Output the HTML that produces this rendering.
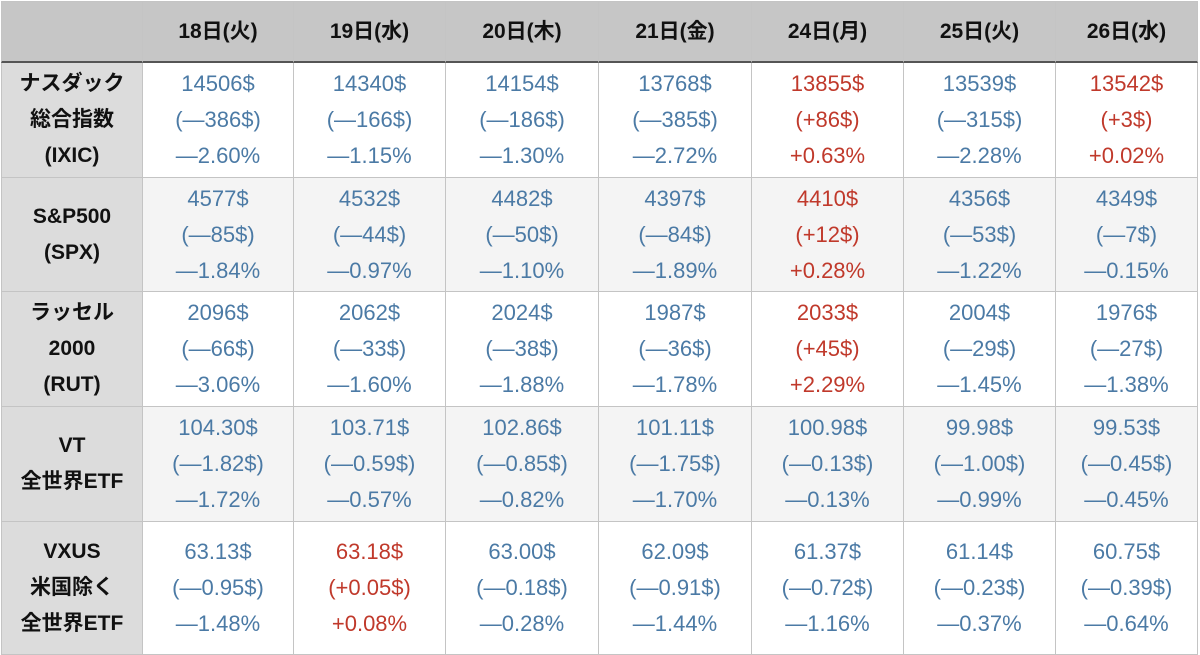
<!DOCTYPE html>
<html><head><meta charset="utf-8"><style>
body{margin:0;width:1200px;height:655px;background:#fff;overflow:hidden;font-family:"Liberation Sans","Noto Sans CJK JP",sans-serif;}
#t{position:absolute;left:2px;top:2px;}
.c{position:absolute;box-sizing:border-box;border-right:1px solid #c4c4c4;border-bottom:1px solid #c4c4c4;display:flex;flex-direction:column;align-items:center;justify-content:center;text-align:center;font-size:22px;line-height:36px;}
.h{background:#c6c6c6;font-weight:bold;color:#111;border-bottom:2px solid #555;font-size:21px;}
.l{background:#dcdcdc;font-weight:bold;color:#111;font-size:21px;}
.b{color:#4b7aa5}.r{color:#c0392b}
</style></head><body>
<div id="t"></div>
<script>
const cols=[1,143,294,446,599,752,904,1056,1198];
const rows=[1,63,178,292,407,522,655];
const days=["18日(火)","19日(水)","20日(木)","21日(金)","24日(月)","25日(火)","26日(水)"];
const labels=["ナスダック<br>総合指数<br>(IXIC)","S&amp;P500<br>(SPX)","ラッセル<br>2000<br>(RUT)","VT<br>全世界ETF","VXUS<br>米国除く<br>全世界ETF"];
const prices=[["14506$","14340$","14154$","13768$","13855$","13539$","13542$"],["4577$","4532$","4482$","4397$","4410$","4356$","4349$"],["2096$","2062$","2024$","1987$","2033$","2004$","1976$"],["104.30$","103.71$","102.86$","101.11$","100.98$","99.98$","99.53$"],["63.13$","63.18$","63.00$","62.09$","61.37$","61.14$","60.75$"]];
const changes=[["—386$","—166$","—186$","—385$","+86$","—315$","+3$"],["—85$","—44$","—50$","—84$","+12$","—53$","—7$"],["—66$","—33$","—38$","—36$","+45$","—29$","—27$"],["—1.82$","—0.59$","—0.85$","—1.75$","—0.13$","—1.00$","—0.45$"],["—0.95$","+0.05$","—0.18$","—0.91$","—0.72$","—0.23$","—0.39$"]];
const pcts=[["—2.60%","—1.15%","—1.30%","—2.72%","+0.63%","—2.28%","+0.02%"],["—1.84%","—0.97%","—1.10%","—1.89%","+0.28%","—1.22%","—0.15%"],["—3.06%","—1.60%","—1.88%","—1.78%","+2.29%","—1.45%","—1.38%"],["—1.72%","—0.57%","—0.82%","—1.70%","—0.13%","—0.99%","—0.45%"],["—1.48%","+0.08%","—0.28%","—1.44%","—1.16%","—0.37%","—0.64%"]];
const t=document.getElementById('t');
function cell(ci,ri,cls,html,name){
 const d=document.createElement('div');
 d.className='c '+cls;
 d.style.left=(cols[ci]-2)+'px';d.style.top=(rows[ri]-2)+'px';
 d.style.width=(cols[ci+1]-cols[ci])+'px';d.style.height=(rows[ri+1]-rows[ri])+'px';
 if(ci==0)d.style.borderLeft='1px solid #c4c4c4';
 if(ri==0)d.style.borderTop='1px solid #c4c4c4';
 d.innerHTML=html;
 
 
 t.appendChild(d);return d;
}
cell(0,0,'h','','corner-cell');
days.forEach((d,i)=>cell(i+1,0,'h',d,'header-day-'+(i+1)));
labels.forEach((l,r)=>{
 cell(0,r+1,'l',l,'row-label-'+(r+1));
 for(let i=0;i<7;i++){
  const up=changes[r][i][0]=='+';
  const c=cell(i+1,r+1,up?'r':'b',prices[r][i]+'<br>('+changes[r][i]+')<br>'+pcts[r][i],'value-cell-r'+(r+1)+'-c'+(i+1));
  c.style.background=(r%2==1)?'#f4f4f4':'#fff';
 }
});
</script>
</body></html>
